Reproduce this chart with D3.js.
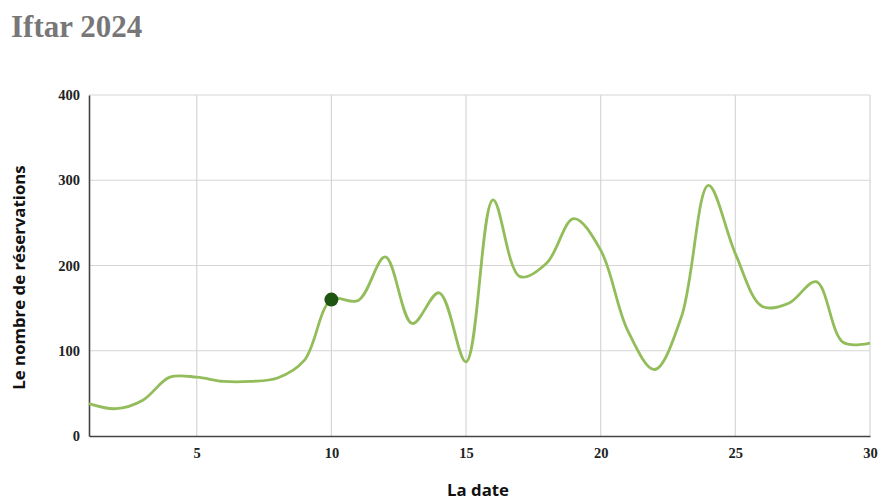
<!DOCTYPE html>
<html>
<head>
<meta charset="utf-8">
<script src="https://cdn.jsdelivr.net/npm/d3@7"></script>
<style>
  html, body { margin: 0; padding: 0; background: #fff; }
  svg { display: block; }
</style>
</head>
<body>
<svg id="chart" width="879" height="502"></svg>
<script>
// Daily Iftar reservations, March–April 2024
const days = [1,2,3,4,5,6,7,8,9,10,11,12,13,14,15,16,17,18,19,20,21,22,23,24,25,26,27,28,29,30];
const reservations = [38,32,42,69,69,64,64,68,89,160,159,210,132,168,87,277,187,203,255,218,124,78,140,294,214,152,156,181,110,109];
const highlightDay = 10;
const xTicks = [5,10,15,20,25,30];
const yTicks = [0,100,200,300,400];

const svg = d3.select("#chart");
const margin = { left: 89, right: 9, top: 95, bottom: 66 };
const W = 879, H = 502;

const x = d3.scaleLinear().domain([1, 30]).range([margin.left, W - margin.right]);
const y = d3.scaleLinear().domain([0, 400]).range([H - margin.bottom, margin.top]);

// Title
svg.append("text")
  .attr("x", 11).attr("y", 37)
  .attr("font-family", "Liberation Serif, Times New Roman, serif")
  .attr("font-weight", "bold")
  .attr("font-size", 31)
  .attr("fill", "#777")
  .text("Iftar 2024");

// Gridlines
const grid = svg.append("g");
grid.selectAll("line.h").data(yTicks.filter(d => d > 0)).join("line")
  .attr("x1", x(1)).attr("x2", x(30))
  .attr("y1", d => y(d)).attr("y2", d => y(d))
  .attr("stroke", "#d6d6d6").attr("stroke-width", 1.2);
grid.selectAll("line.v").data(xTicks).join("line")
  .attr("x1", d => x(d)).attr("x2", d => x(d))
  .attr("y1", y(0)).attr("y2", y(400))
  .attr("stroke", "#d6d6d6").attr("stroke-width", 1.2);

// Axes
const xAxis = d3.axisBottom(x).tickValues(xTicks).tickSize(0).tickPadding(12);
const yAxis = d3.axisLeft(y).tickValues(yTicks).tickSize(0).tickPadding(9);

const gx = svg.append("g").attr("transform", `translate(0,${y(0)})`).call(xAxis);
const gy = svg.append("g").attr("transform", `translate(${x(1)},0)`).call(yAxis);
[gx, gy].forEach(g => {
  g.select(".domain").attr("stroke", "#444").attr("stroke-width", 1.6);
  g.selectAll("text")
    .attr("font-family", "Liberation Serif, Times New Roman, serif")
    .attr("font-weight", "bold")
    .attr("font-size", 14.5)
    .attr("fill", "#222");
});

// Axis titles
svg.append("text")
  .attr("x", 478).attr("y", 496)
  .attr("text-anchor", "middle")
  .attr("font-family", "Open Sans, sans-serif")
  .attr("font-weight", "bold")
  .attr("font-size", 16.8)
  .attr("fill", "#111")
  .text("La date");

svg.append("text")
  .attr("transform", `translate(25,${(y(0) + y(400)) / 2 + 12}) rotate(-90)`)
  .attr("text-anchor", "middle")
  .attr("font-family", "Open Sans, sans-serif")
  .attr("font-weight", "bold")
  .attr("font-size", 16.8)
  .attr("fill", "#111")
  .text("Le nombre de réservations");

// Line
const data = days.map((d, i) => ({ day: d, value: reservations[i] }));
const line = d3.line()
  .x(d => x(d.day))
  .y(d => y(d.value))
  .curve(d3.curveCatmullRom.alpha(0.5));

svg.append("path")
  .datum(data)
  .attr("d", line)
  .attr("fill", "none")
  .attr("stroke", "#93bd5b")
  .attr("stroke-width", 2.8);

// Highlighted day
const hp = data.find(d => d.day === highlightDay);
svg.append("circle")
  .attr("cx", x(hp.day)).attr("cy", y(hp.value))
  .attr("r", 7)
  .attr("fill", "#1f5512");
</script>
</body>
</html>
